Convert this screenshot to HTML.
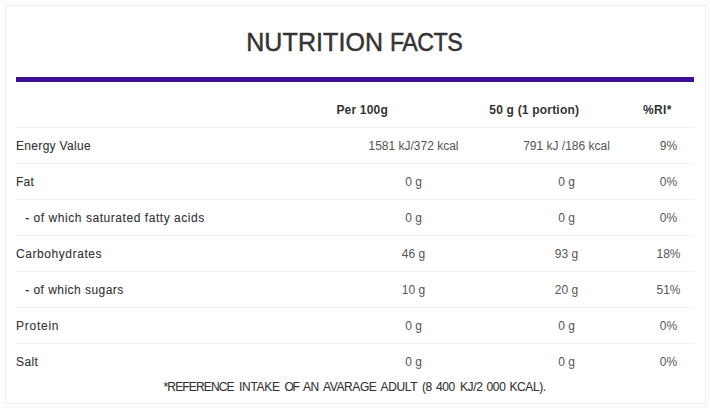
<!DOCTYPE html>
<html>
<head>
<meta charset="utf-8">
<style>
html,body{margin:0;padding:0;background:#fff;}
body{width:710px;height:410px;position:relative;overflow:hidden;font-family:"Liberation Sans",sans-serif;color:#333;}
.box{position:absolute;left:5px;top:5px;width:699px;height:397px;border:1px solid #efefef;}
.box2{position:absolute;left:2px;top:1px;width:705px;height:405px;border:1px solid #f8f8f8;}
.t{position:absolute;white-space:nowrap;line-height:1;}
.ttl{top:30px;font-size:25px;color:#333;-webkit-text-stroke:0.45px #333;}
.bar{position:absolute;left:16px;top:77px;width:678px;height:5px;background:#3d1095;}
.sep{position:absolute;left:16px;width:678px;height:1px;background:#f2f2f2;}
.h{font-weight:bold;font-size:12px;top:104px;color:#333;letter-spacing:0.2px;}
.lab{font-size:12px;left:16px;color:#333;-webkit-text-stroke:0.1px #333;}
.sub{left:25.2px;}
.v{font-size:12px;text-align:center;color:#555;}
.c1{left:337px;width:153px;}
.c2{left:490px;width:153px;}
.c3{left:643px;width:51px;}
.fw{top:381px;font-size:12px;color:#333;-webkit-text-stroke:0.1px #333;}
</style>
</head>
<body>
<div class="box2"></div>
<div class="box"></div>
<div class="t ttl" style="left:246.2px;letter-spacing:0.11px">NUTRITION</div>
<div class="t ttl" style="left:390.2px;letter-spacing:-0.6px;transform:scaleX(0.93);transform-origin:0 0">FACTS</div>
<div class="bar"></div>

<div class="t h" style="left:336.4px">Per 100g</div>
<div class="t h" style="left:489.3px">50 g (1 portion)</div>
<div class="t h" style="left:643px;letter-spacing:0.38px">%RI*</div>

<div class="sep" style="top:127px"></div>
<div class="sep" style="top:163px"></div>
<div class="sep" style="top:199px"></div>
<div class="sep" style="top:235px"></div>
<div class="sep" style="top:271px"></div>
<div class="sep" style="top:307px"></div>
<div class="sep" style="top:343px"></div>

<div class="t lab" style="top:140px;letter-spacing:0.32px">Energy Value</div>
<div class="t v c1" style="top:140px">1581 kJ/372 kcal</div>
<div class="t v c2" style="top:140px">791 kJ /186 kcal</div>
<div class="t v c3" style="top:140px">9%</div>

<div class="t lab" style="top:176px;letter-spacing:0.2px">Fat</div>
<div class="t v c1" style="top:176px">0 g</div>
<div class="t v c2" style="top:176px">0 g</div>
<div class="t v c3" style="top:176px">0%</div>

<div class="t lab sub" style="top:212px;letter-spacing:0.55px">- of which saturated fatty acids</div>
<div class="t v c1" style="top:212px">0 g</div>
<div class="t v c2" style="top:212px">0 g</div>
<div class="t v c3" style="top:212px">0%</div>

<div class="t lab" style="top:248px;letter-spacing:0.57px">Carbohydrates</div>
<div class="t v c1" style="top:248px">46 g</div>
<div class="t v c2" style="top:248px">93 g</div>
<div class="t v c3" style="top:248px">18%</div>

<div class="t lab sub" style="top:284px;letter-spacing:0.46px">- of which sugars</div>
<div class="t v c1" style="top:284px">10 g</div>
<div class="t v c2" style="top:284px">20 g</div>
<div class="t v c3" style="top:284px">51%</div>

<div class="t lab" style="top:320px;letter-spacing:0.75px">Protein</div>
<div class="t v c1" style="top:320px">0 g</div>
<div class="t v c2" style="top:320px">0 g</div>
<div class="t v c3" style="top:320px">0%</div>

<div class="t lab" style="top:356px;letter-spacing:0.4px">Salt</div>
<div class="t v c1" style="top:356px">0 g</div>
<div class="t v c2" style="top:356px">0 g</div>
<div class="t v c3" style="top:356px">0%</div>

<div class="t fw" style="left:163.5px;letter-spacing:-0.85px">*REFERENCE</div>
<div class="t fw" style="left:239.0px;letter-spacing:-0.3px">INTAKE</div>
<div class="t fw" style="left:284.5px;letter-spacing:-1.4px">OF</div>
<div class="t fw" style="left:303.0px;letter-spacing:-0.4px">AN</div>
<div class="t fw" style="left:323.0px;letter-spacing:-0.4px">AVARAGE</div>
<div class="t fw" style="left:380.5px;letter-spacing:-0.35px">ADULT</div>
<div class="t fw" style="left:422.0px;letter-spacing:-0.4px">(8</div>
<div class="t fw" style="left:436.0px;letter-spacing:-0.4px">400</div>
<div class="t fw" style="left:460.0px;letter-spacing:-0.4px">KJ/2</div>
<div class="t fw" style="left:486.5px;letter-spacing:-0.3px">000</div>
<div class="t fw" style="left:509.5px;letter-spacing:-0.4px">KCAL).</div>
</body>
</html>
